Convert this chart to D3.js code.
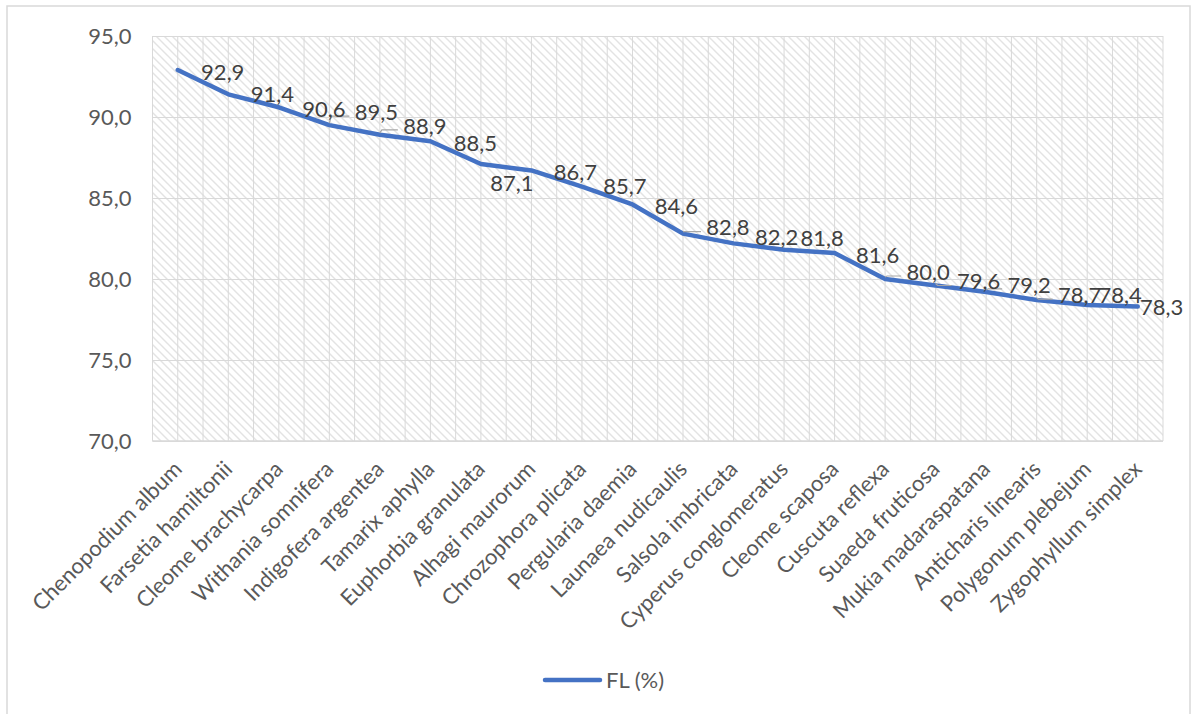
<!DOCTYPE html>
<html>
<head>
<meta charset="utf-8">
<script src="https://cdn.jsdelivr.net/npm/d3@7"></script>
<style>
  html, body { margin: 0; padding: 0; background: #fff; }
  svg { display: block; font-family: Lato, "Open Sans", "Liberation Sans", sans-serif; }
</style>
</head>
<body>
<svg id="chart" width="1192" height="714"></svg>
<script>
// Fidelity level (FL, %) per plant species
const species = [
  "Chenopodium album", "Farsetia hamiltonii", "Cleome brachycarpa", "Withania somnifera",
  "Indigofera argentea", "Tamarix aphylla", "Euphorbia granulata", "Alhagi maurorum",
  "Chrozophora plicata", "Pergularia daemia", "Launaea nudicaulis", "Salsola imbricata",
  "Cyperus conglomeratus", "Cleome scaposa", "Cuscuta reflexa", "Suaeda fruticosa",
  "Mukia madaraspatana", "Anticharis linearis", "Polygonum plebejum", "Zygophyllum simplex"
];
const flValues = [
  92.9, 91.4, 90.6, 89.5, 88.9, 88.5, 87.1, 86.7, 85.7, 84.6,
  82.8, 82.2, 81.8, 81.6, 80.0, 79.6, 79.2, 78.7, 78.4, 78.3
];
const yTicks = [70, 75, 80, 85, 90, 95];
const seriesName = "FL (%)";

// Data-label placement relative to each point [dx, dy] and labels with leader lines
const labelShift = [
  [45, 2], [44, 0], [45, 2], [47, -13], [45, -9], [45, 2], [31, 19], [44, 2], [43, 0], [44, 2],
  [45, -6], [43, -6], [38, -12], [43, 2], [43, -7], [43, -4], [43, -7], [43, -5], [33, -10], [24, 1]
];
const leaderIdx = [3, 4, 10, 14, 15, 16, 17];

const svg = d3.select("#chart");
const plot = { left: 152.5, right: 1163, top: 36, bottom: 441 };
const fmt = v => d3.format(".1f")(v).replace(".", ",");

// Outer chart frame
svg.append("rect")
  .attr("x", 7).attr("y", 6).attr("width", 1183).attr("height", 730)
  .attr("fill", "#fff").attr("stroke", "#d9d9d9").attr("stroke-width", 1.5);

// Diagonal hatch fill for the plot area
const defs = svg.append("defs");
const pat = defs.append("pattern")
  .attr("id", "hatch").attr("patternUnits", "userSpaceOnUse")
  .attr("width", 8).attr("height", 8);
pat.append("rect").attr("width", 8).attr("height", 8).attr("fill", "#fff");
pat.append("path")
  .attr("d", "M-2,-2 L10,10 M-2,6 L2,10 M6,-2 L10,2")
  .attr("stroke", "#e3e3e3").attr("stroke-width", 1.4);

const x = d3.scaleBand().domain(species).range([plot.left, plot.right]);
const bw = x.bandwidth();
const cx = d => x(d) + bw / 2;
const y = d3.scaleLinear().domain([70, 95]).range([plot.bottom, plot.top]);

svg.append("rect")
  .attr("x", plot.left).attr("y", plot.top)
  .attr("width", plot.right - plot.left).attr("height", plot.bottom - plot.top)
  .attr("fill", "url(#hatch)");

// Vertical gridlines at every half category
const vLines = d3.range(0, species.length * 2 + 1).map(k => plot.left + k * bw / 2);
svg.append("g").selectAll("line").data(vLines).join("line")
  .attr("x1", d => d).attr("x2", d => d)
  .attr("y1", plot.top).attr("y2", plot.bottom)
  .attr("stroke", "#d9d9d9").attr("stroke-width", 1);

// Horizontal gridlines and y axis labels
const yAxis = d3.axisLeft(y).tickValues(yTicks).tickFormat(fmt)
  .tickSize(-(plot.right - plot.left)).tickPadding(21);
const gy = svg.append("g").attr("transform", `translate(${plot.left},0)`).call(yAxis);
gy.select(".domain").remove();
gy.selectAll(".tick line").attr("stroke", "#d9d9d9").attr("stroke-width", 1);
gy.selectAll(".tick text").attr("fill", "#595959").attr("font-size", 22)
  .attr("font-family", "Lato, 'Open Sans', sans-serif");

// Category axis
svg.append("line")
  .attr("x1", plot.left).attr("x2", plot.right)
  .attr("y1", plot.bottom).attr("y2", plot.bottom)
  .attr("stroke", "#d9d9d9").attr("stroke-width", 1.5);

svg.append("g").selectAll("text").data(species).join("text")
  .attr("transform", d => `translate(${cx(d)},${plot.bottom + 24}) rotate(-45)`)
  .attr("text-anchor", "end").attr("dy", "0.35em")
  .attr("fill", "#595959").attr("font-size", 22)
  .text(d => d);

// Series line
const pts = species.map((s, i) => ({ s, v: flValues[i], i }));
const line = d3.line().x(d => cx(d.s)).y(d => y(d.v));
svg.append("path").datum(pts)
  .attr("d", line).attr("fill", "none")
  .attr("stroke", "#4472c4").attr("stroke-width", 4.5)
  .attr("stroke-linejoin", "round").attr("stroke-linecap", "round");

// Leader lines for shifted data labels
svg.append("g").selectAll("path").data(pts.filter(d => leaderIdx.includes(d.i))).join("path")
  .attr("d", d => {
    const px = cx(d.s), py = y(d.v);
    const lx = px + labelShift[d.i][0] - 21 - 6;
    const ly = py + labelShift[d.i][1];
    return `M${px},${py - 2} L${px + 2},${ly + 4} L${lx},${ly + 4}`;
  })
  .attr("fill", "none").attr("stroke", "#a6a6a6").attr("stroke-width", 1.2);

// Data labels
svg.append("g").selectAll("text").data(pts).join("text")
  .attr("x", d => cx(d.s) + labelShift[d.i][0])
  .attr("y", d => y(d.v) + labelShift[d.i][1])
  .attr("text-anchor", "middle").attr("dy", "0.35em")
  .attr("fill", "#404040").attr("font-size", 22)
  .text(d => fmt(d.v));

// Legend
const lg = svg.append("g").attr("transform", "translate(545,680)");
lg.append("line").attr("x1", 0).attr("x2", 55).attr("y1", 0).attr("y2", 0)
  .attr("stroke", "#4472c4").attr("stroke-width", 4.5).attr("stroke-linecap", "round");
lg.append("text").attr("x", 61).attr("dy", "0.35em")
  .attr("fill", "#595959").attr("font-size", 22).text(seriesName);
</script>
</body>
</html>
